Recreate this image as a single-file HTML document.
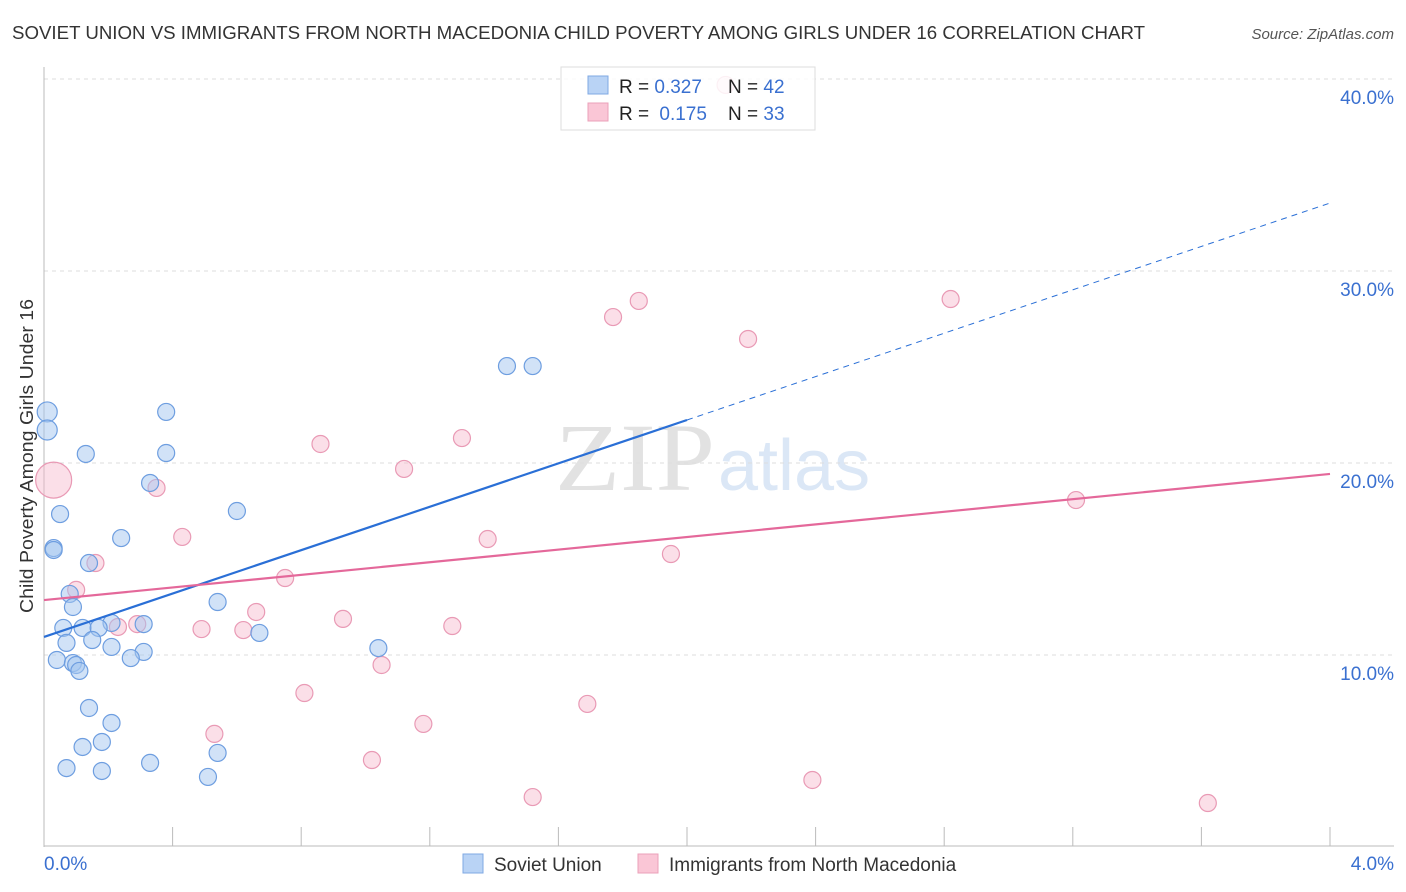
<!DOCTYPE html>
<html><head><meta charset="utf-8"><style>
body{margin:0;background:#fff;font-family:"Liberation Sans",sans-serif;}
#wrap{position:relative;width:1406px;height:892px;overflow:hidden;}
</style></head><body>
<div id="wrap">
<svg id="chart" width="1406" height="892">
<text x="12" y="39" font-size="18" fill="#333" textLength="1133" lengthAdjust="spacingAndGlyphs">SOVIET UNION VS IMMIGRANTS FROM NORTH MACEDONIA CHILD POVERTY AMONG GIRLS UNDER 16 CORRELATION CHART</text>
<text x="1394" y="39" font-size="15" fill="#555" text-anchor="end" font-style="italic">Source: ZipAtlas.com</text>
<text x="33" y="456" font-size="18" fill="#333" text-anchor="middle" textLength="314" lengthAdjust="spacingAndGlyphs" transform="rotate(-90 33 456)">Child Poverty Among Girls Under 16</text>
<text x="715" y="490" font-size="96" fill="#e2e2e2" text-anchor="end" font-family="Liberation Serif" textLength="160" lengthAdjust="spacingAndGlyphs">ZIP</text>
<text x="718" y="490" font-size="72" fill="#dbe7f6">atlas</text>
<g id="grid"></g><g id="pts"></g><g id="lines"></g>
<g>
<rect x="561" y="67" width="254" height="63" fill="rgba(255,255,255,0.85)" stroke="#ddd"/>
<rect x="588" y="76" width="20" height="18" fill="#b9d3f5" stroke="#7fa8e3"/>
<rect x="588" y="103" width="20" height="18" fill="#fac6d6" stroke="#eba0b9"/>
<text x="619" y="93" font-size="19" fill="#222">R = <tspan fill="#3a70d0">0.327</tspan></text>
<text x="728" y="93" font-size="19" fill="#222">N = <tspan fill="#3a70d0">42</tspan></text>
<text x="619" y="120" font-size="19" fill="#222">R = <tspan fill="#3a70d0" dx="5">0.175</tspan></text>
<text x="728" y="120" font-size="19" fill="#222">N = <tspan fill="#3a70d0">33</tspan></text>
</g>
<g>
<rect x="463" y="854" width="20" height="19" fill="#b9d3f5" stroke="#7fa8e3"/>
<text x="494" y="871" font-size="19" fill="#333">Soviet Union</text>
<rect x="638" y="854" width="20" height="19" fill="#fac6d6" stroke="#eba0b9"/>
<text x="669" y="871" font-size="19" fill="#333">Immigrants from North Macedonia</text>
</g>
</svg></div>
<script>
const yTicks=[10,20,30,40];
const yTickLabels=["10.0%","20.0%","30.0%","40.0%"];
const xEndLabels=["0.0%","4.0%"];
const blueX=[.01,.01,.13,.38,.38,.33,.05,.60,.03,.03,.24,.14,.08,.09,.54,.21,.31,.06,.12,.17,.67,.15,.07,.21,.31,.27,.04,.09,.10,.11,1.04,.14,.21,.18,.12,.54,.07,.18,.33,.51,1.44,1.52];
const blueY=[22.66,21.72,20.47,22.66,20.52,18.96,17.34,17.5,15.57,15.47,16.09,14.79,13.18,12.5,12.76,11.67,11.61,11.41,11.41,11.41,11.15,10.78,10.63,10.42,10.16,9.84,9.74,9.58,9.48,9.17,10.36,7.24,6.46,5.47,5.21,4.90,4.11,3.96,4.38,3.65,25.05,25.05];
const pinkX=[.03,.35,.16,.43,.10,.23,.29,.49,.62,.66,.75,.86,.93,.81,1.05,1.02,.53,1.12,1.30,1.38,1.27,1.18,1.52,1.69,1.77,1.85,1.95,2.19,2.39,2.82,3.21,3.62,2.12];
const pinkY=[19.11,18.7,14.79,16.15,13.39,11.46,11.61,11.35,11.3,12.24,14.01,20.99,11.88,8.02,9.48,4.53,5.89,19.69,21.3,16.04,11.51,6.41,2.60,7.45,27.6,28.44,15.26,26.46,3.49,28.54,18.07,2.29,39.69];
const blueTrend=[10.94,33.54];
const pinkTrend=[12.86,19.43];
const X=v=>44+v/4*1286, Y=v=>847-v*19.2;
const NS="http://www.w3.org/2000/svg";
function mk(tag,attrs,parent){const e=document.createElementNS(NS,tag);for(const k in attrs)e.setAttribute(k,attrs[k]);parent.appendChild(e);return e;}
const grid=document.getElementById('grid');
yTicks.forEach((t,i)=>{
 const l=mk('line',{x1:44,x2:1394,y1:Y(t),y2:Y(t),stroke:'#ddd','stroke-dasharray':'4,4'},grid);
 
 
 const tx=mk('text',{x:1394,y:Y(t)+25,'font-size':19,fill:'#3a70d0','text-anchor':'end'},grid);
 tx.textContent=yTickLabels[i];
 
 
});
mk('line',{x1:44,x2:44,y1:67,y2:847,stroke:'#bbb'},grid);
mk('line',{x1:44,x2:1394,y1:846,y2:846,stroke:'#bbb'},grid);
for(let i=0;i<=10;i++){const x=X(i*0.4);const t=mk('line',{x1:x,x2:x,y1:827,y2:846,stroke:'#bbb'},grid);}
const xl0=mk('text',{x:44,y:870,'font-size':19,fill:'#3a70d0'},grid);xl0.textContent=xEndLabels[0];


const xl1=mk('text',{x:1394,y:870,'font-size':19,fill:'#3a70d0','text-anchor':'end'},grid);xl1.textContent=xEndLabels[1];


const pts=document.getElementById('pts');
pinkX.forEach((v,i)=>{const c=mk('circle',{cx:X(v),cy:Y(pinkY[i]),r:i===0?18:8.5,fill:'rgba(246,183,203,0.45)',stroke:'#e99ab5','stroke-width':1.2},pts);
 
 });
blueX.forEach((v,i)=>{const r=(i<2)?10:8.5;const c=mk('circle',{cx:X(v),cy:Y(blueY[i]),r:r,fill:'rgba(164,198,240,0.5)',stroke:'#6e9ee0','stroke-width':1.2},pts);
 
 });
const lines=document.getElementById('lines');
const bm=blueTrend[0]+(blueTrend[1]-blueTrend[0])*0.5;
const b1=mk('line',{x1:X(0),y1:Y(blueTrend[0]),x2:X(2),y2:Y(bm),stroke:'#2a6fd6','stroke-width':2.2},lines);


const b2=mk('line',{x1:X(2),y1:Y(bm),x2:X(4),y2:Y(blueTrend[1]),stroke:'#2a6fd6','stroke-width':1,'stroke-dasharray':'6,5'},lines);


const p1=mk('line',{x1:X(0),y1:Y(pinkTrend[0]),x2:X(4),y2:Y(pinkTrend[1]),stroke:'#e4689a','stroke-width':2.2},lines);


</script>
</body></html>
